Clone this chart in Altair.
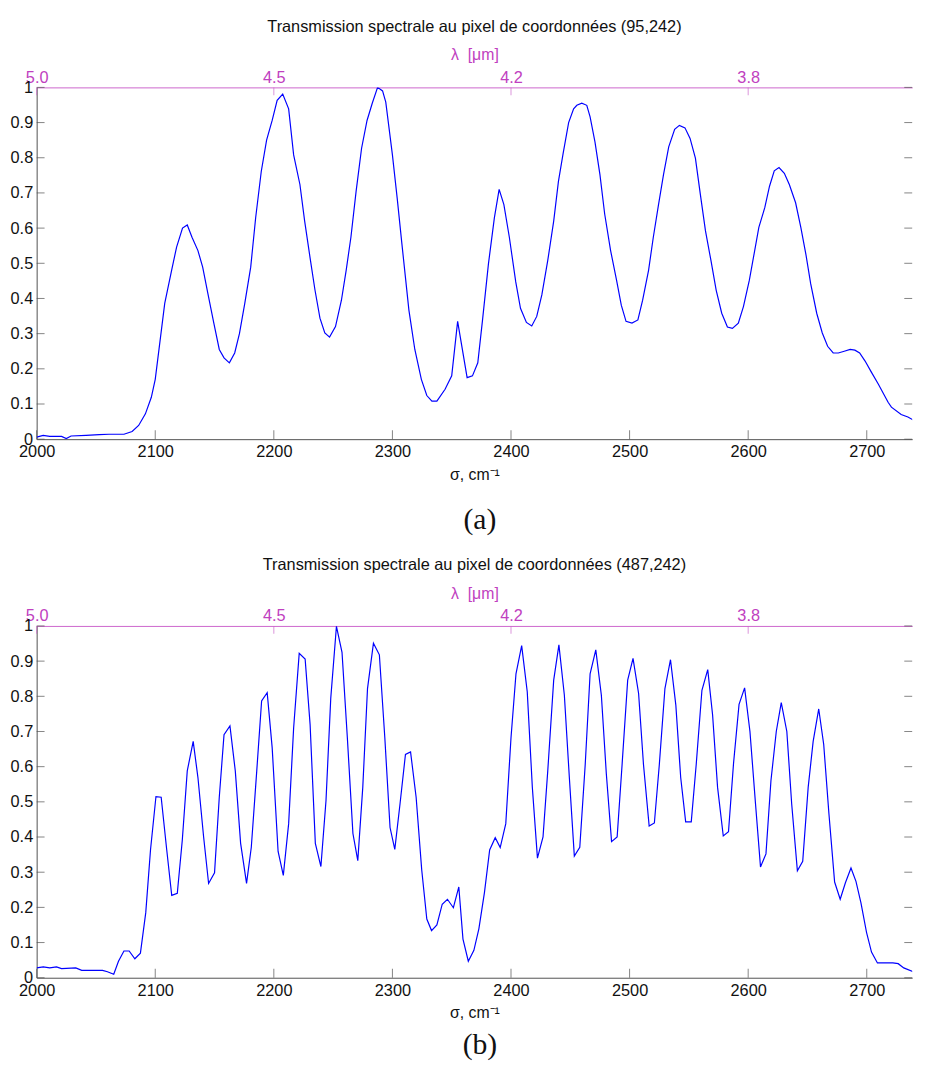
import altair as alt
import pandas as pd

# ---------------- data ----------------
sigma_a = [2000, 2005.5, 2011, 2021, 2025, 2029, 2041.7, 2052.8, 2061, 2073.6, 2080.5, 2086,
           2091.7, 2096.7, 2100, 2108, 2113.8, 2118, 2123, 2127, 2131, 2136, 2140, 2144.4,
           2149.4, 2154, 2158, 2162.5, 2167, 2171, 2175.5, 2180.5, 2184.7, 2189.4, 2193.9,
           2198.6, 2202.8, 2207.5, 2212.5, 2216.7, 2222, 2226, 2230.5, 2234.7, 2238.9, 2243,
           2247, 2252, 2257, 2261, 2265, 2269.4, 2274, 2278.6, 2283, 2287.5, 2291.7, 2294.4,
           2300, 2304, 2308, 2313.9, 2318.9, 2324.4, 2329, 2333.3, 2337.5, 2344.4, 2350, 2355,
           2363, 2367.5, 2372, 2376, 2381, 2386, 2390, 2394, 2398.6, 2404, 2408, 2413, 2417.5,
           2421.7, 2426, 2431, 2436, 2440, 2444, 2448.6, 2452.8, 2455.5, 2459.7, 2463.9, 2466.7,
           2470.8, 2475, 2479, 2484, 2489, 2493, 2497, 2502, 2507, 2511, 2516, 2520, 2524.4,
           2528.6, 2533, 2538, 2542, 2546.7, 2551, 2555.5, 2559.7, 2564, 2568.6, 2573, 2577.7,
           2582.5, 2586.7, 2591.7, 2596, 2601, 2605, 2609, 2614, 2618, 2622, 2626, 2630.5,
           2634.7, 2640, 2644.4, 2648.6, 2652.7, 2657.8, 2662.5, 2667, 2671.7, 2676, 2681,
           2686, 2690, 2694, 2698.6, 2704, 2709.7, 2718, 2720.8, 2729, 2734.7, 2741.7, 2750]
trans_a = [0.006, 0.011, 0.008, 0.008, 0.002, 0.009, 0.011, 0.013, 0.014, 0.014, 0.022, 0.039,
           0.072, 0.119, 0.17, 0.386, 0.48, 0.546, 0.600, 0.609, 0.574, 0.536, 0.489, 0.414,
           0.33, 0.255, 0.231, 0.217, 0.245, 0.30, 0.386, 0.489, 0.63, 0.761, 0.85,
           0.906, 0.963, 0.981, 0.939, 0.808, 0.724, 0.62, 0.517, 0.424, 0.344, 0.302,
           0.29, 0.32, 0.395, 0.48, 0.574, 0.705, 0.827, 0.906, 0.955, 1.0, 0.99, 0.958,
           0.808, 0.686, 0.555, 0.367, 0.255, 0.17, 0.124, 0.108, 0.108, 0.142, 0.18, 0.335,
           0.175, 0.18, 0.217, 0.339, 0.499, 0.63, 0.71, 0.667, 0.574, 0.447, 0.372, 0.332, 0.322,
           0.349, 0.41, 0.508, 0.62, 0.733, 0.813, 0.90, 0.939, 0.949, 0.955, 0.949, 0.916,
           0.845, 0.752, 0.64, 0.536, 0.452, 0.381, 0.335, 0.33, 0.339, 0.395, 0.48, 0.574, 0.667,
           0.752, 0.831, 0.881, 0.892, 0.885, 0.855, 0.799, 0.695, 0.592, 0.508, 0.424, 0.358,
           0.319, 0.315, 0.33, 0.377, 0.452, 0.527, 0.602, 0.658, 0.719, 0.763, 0.772, 0.756,
           0.724, 0.672, 0.602, 0.527, 0.442, 0.358, 0.302, 0.264, 0.245, 0.245, 0.25,
           0.255, 0.253, 0.245, 0.222, 0.19, 0.157, 0.105, 0.091, 0.07, 0.063, 0.05, 0.05]

sigma_b = [2000, 2005.6, 2011, 2016.7, 2021, 2033, 2038, 2055.6, 2059.7, 2065, 2069, 2073.6,
           2078, 2082.8, 2087.5, 2092, 2096, 2100.6, 2105, 2109.7, 2113.9, 2118.6, 2122.8, 2127,
           2132, 2136, 2140.8, 2145, 2150, 2154, 2158, 2163, 2167.5, 2172, 2177, 2181, 2185.6,
           2189.7, 2194.4, 2198.6, 2203.6, 2208, 2212.5, 2216.7, 2221.4, 2226.4, 2230.6, 2235,
           2239.7, 2244, 2248, 2252.8, 2257.5, 2262, 2266.7, 2270.8, 2275, 2279, 2284, 2289,
           2293.6, 2298, 2302, 2306.4, 2311, 2315.3, 2320, 2324.7, 2329, 2333, 2337.5, 2342,
           2346.4, 2351.4, 2356, 2359.5, 2364, 2368.7, 2372.9, 2377.6, 2382, 2386.7, 2390.9,
           2395.6, 2400, 2404.2, 2409, 2413.7, 2418, 2422.3, 2427, 2431, 2436, 2440.4, 2445,
           2449.2, 2453.4, 2458, 2462.6, 2466.7, 2471.5, 2476.2, 2480.4, 2484.8, 2489.5, 2493.7,
           2498.4, 2502.9, 2507.6, 2511.7, 2516.5, 2520.9, 2525.1, 2529.8, 2534.5, 2539, 2543.1,
           2547.3, 2552, 2556.2, 2561, 2565.9, 2570, 2574.2, 2579, 2583.4, 2587.6, 2592.3, 2597,
           2601.5, 2606.2, 2610.4, 2615, 2619.2, 2623.7, 2627.9, 2632.6, 2636.7, 2641.5, 2646,
           2650.6, 2654.8, 2659.5, 2663.7, 2668.1, 2672.9, 2677.6, 2682, 2686.7, 2690.9, 2695.1,
           2699.8, 2704, 2709, 2713.1, 2722, 2726.5, 2731.2, 2739.5, 2742.3, 2750]
trans_b = [0.028, 0.031, 0.028, 0.031, 0.026, 0.028, 0.021, 0.021, 0.017, 0.01, 0.047, 0.076,
           0.076, 0.054, 0.07, 0.185, 0.363, 0.515, 0.513, 0.363, 0.234, 0.24, 0.391, 0.588,
           0.672, 0.569, 0.40, 0.268, 0.298, 0.513, 0.691, 0.716, 0.588, 0.382, 0.268, 0.371, 0.588,
           0.787, 0.81, 0.654, 0.359, 0.291, 0.438, 0.71, 0.922, 0.906, 0.719, 0.382,
           0.316, 0.504, 0.794, 0.999, 0.925, 0.682, 0.41, 0.333, 0.541, 0.822, 0.951, 0.918,
           0.682, 0.427, 0.365, 0.494, 0.635, 0.642, 0.513, 0.307, 0.167, 0.134, 0.15, 0.209,
           0.223, 0.199, 0.258, 0.11, 0.047, 0.078, 0.139, 0.242, 0.363, 0.398, 0.37,
           0.438, 0.682, 0.864, 0.944, 0.813, 0.541, 0.34, 0.40, 0.588, 0.846, 0.946, 0.803,
           0.569, 0.346, 0.371, 0.607, 0.864, 0.932, 0.803, 0.579, 0.387, 0.40, 0.607,
           0.846, 0.908, 0.808, 0.607, 0.431, 0.44, 0.607, 0.822, 0.904, 0.775, 0.569,
           0.443, 0.443, 0.607, 0.817, 0.876, 0.747, 0.541, 0.403, 0.415, 0.607, 0.777, 0.824,
           0.70, 0.494, 0.315, 0.352, 0.56, 0.70, 0.782, 0.70, 0.494, 0.304, 0.331,
           0.541, 0.672, 0.764, 0.663, 0.466, 0.272, 0.223, 0.27, 0.312, 0.274, 0.213,
           0.129, 0.073, 0.042, 0.042, 0.042, 0.04, 0.028, 0.017, 0.017, 0.023]

sigma_ticks = [2000, 2100, 2200, 2300, 2400, 2500, 2600, 2700]
y_ticks = [0, 0.1, 0.2, 0.3, 0.4, 0.5, 0.6, 0.7, 0.8, 0.9, 1]
lam_tick_pos = [2000, 2200, 2400, 2600]
lam_tick_labels = ["5.0", "4.5", "4.2", "3.8"]
titles = ["Transmission spectrale au pixel de coordonnées (95,242)",
          "Transmission spectrale au pixel de coordonnées (487,242)"]
captions = ["(a)", "(b)"]
x_title = "σ, cm⁻¹"
lam_title = "λ\u00a0\u00a0[μm]"
x_domain = [2000, 2738.3]   # the picture is cut by its right border just before 2750
y_domain = [0, 1]

FONT = "Liberation Sans"
MAG = "#C040C0"
MAG_LINE = "#CC66CC"
GRAY = "#505050"
FS = 16.5
W, H = 886, 356

lam_expr = "[" + ",".join("'%s'" % s for s in lam_tick_labels) + "][indexof([" + \
    ",".join(str(v) for v in lam_tick_pos) + "], datum.value)]"


def panel(sig, tr, title_text, caption, cap_offset):
    df = pd.DataFrame({"sigma": sig, "T": tr})
    xs = alt.Scale(domain=x_domain, nice=False, zero=False)
    ys = alt.Scale(domain=y_domain, nice=False, zero=False)
    base = alt.Chart(df)

    line = base.mark_line(color="#0000FF", strokeWidth=1.2, clip=True).encode(
        x=alt.X("sigma:Q", scale=xs, axis=alt.Axis(
            orient="bottom", values=sigma_ticks, format="d", title=x_title, ticks=False,
            grid=False, domain=True, domainColor=GRAY, labelFont=FONT, labelFontSize=FS,
            labelColor="#111", labelPadding=5, titleFont=FONT, titleFontSize=FS - 0.5,
            titleFontWeight="normal", titleColor="#111", titlePadding=6, labelFlush=False,
            minExtent=0)),
        y=alt.Y("T:Q", scale=ys, axis=alt.Axis(
            orient="left", values=y_ticks, format="~g", title=None, ticks=False, grid=False,
            domain=True, domainColor=GRAY, labelFont=FONT, labelFontSize=FS,
            labelColor="#111", labelPadding=4, labelFlush=False, minExtent=0)),
    )
    top = base.mark_line(strokeOpacity=0).encode(
        x=alt.X("sigma:Q", scale=xs, axis=alt.Axis(
            orient="top", values=lam_tick_pos, labelExpr=lam_expr, title=lam_title,
            ticks=False, grid=False, domain=True, domainColor=MAG_LINE, labelColor=MAG,
            labelFont=FONT, labelFontSize=FS, labelPadding=2, titleFont=FONT,
            titleFontSize=FS - 0.5, titleFontWeight="normal", titleColor=MAG, titlePadding=7,
            labelFlush=False, minExtent=0)),
        y=alt.Y("T:Q", scale=ys, axis=None),
    )

    # inward tick marks (MATLAB style), drawn through the same scales
    xt = alt.Chart(pd.DataFrame({"sigma": sigma_ticks}))
    yt = alt.Chart(pd.DataFrame({"T": y_ticks}))
    lt = alt.Chart(pd.DataFrame({"sigma": lam_tick_pos}))
    bottom_ticks = xt.mark_tick(orient="vertical", size=9, thickness=1, color=GRAY,
                                yOffset=-4.5).encode(
        x=alt.X("sigma:Q", scale=xs, axis=None),
        y=alt.YDatum(y_domain[0], axis=None))
    top_ticks = lt.mark_tick(orient="vertical", size=8, thickness=1, color=MAG_LINE,
                             yOffset=4).encode(
        x=alt.X("sigma:Q", scale=xs, axis=None),
        y=alt.YDatum(y_domain[1], axis=None))
    left_ticks = yt.mark_tick(orient="horizontal", size=8, thickness=1, color=GRAY,
                              xOffset=4).encode(
        y=alt.Y("T:Q", scale=ys, axis=None),
        x=alt.XDatum(x_domain[0], axis=None))
    right_ticks = yt.mark_tick(orient="horizontal", size=8, thickness=1, color=GRAY,
                               xOffset=-4).encode(
        y=alt.Y("T:Q", scale=ys, axis=None),
        x=alt.XDatum(x_domain[1], axis=None))

    layer = alt.layer(line, top, bottom_ticks, top_ticks, left_ticks, right_ticks).resolve_axis(
        x="independent", y="independent"
    ).properties(
        width=W, height=H,
        title=alt.Title(title_text, font=FONT, fontSize=FS, fontWeight="normal",
                        color="#111", anchor="middle", frame="group", offset=12),
    )
    return alt.vconcat(layer).properties(
        title=alt.Title(caption, orient="bottom", font="Liberation Serif", fontSize=30,
                        fontWeight="normal", color="#111", anchor="middle", dx=12,
                        offset=cap_offset)
    )


chart = alt.vconcat(
    panel(sigma_a, trans_a, titles[0], captions[0], 23),
    panel(sigma_b, trans_b, titles[1], captions[1], 10),
    spacing=22,
).properties(
    padding={"left": 2, "right": 0, "top": 4, "bottom": 0}
).configure_view(stroke=None)

chart.save("out.html", embed_options={"renderer": "svg", "actions": False})
